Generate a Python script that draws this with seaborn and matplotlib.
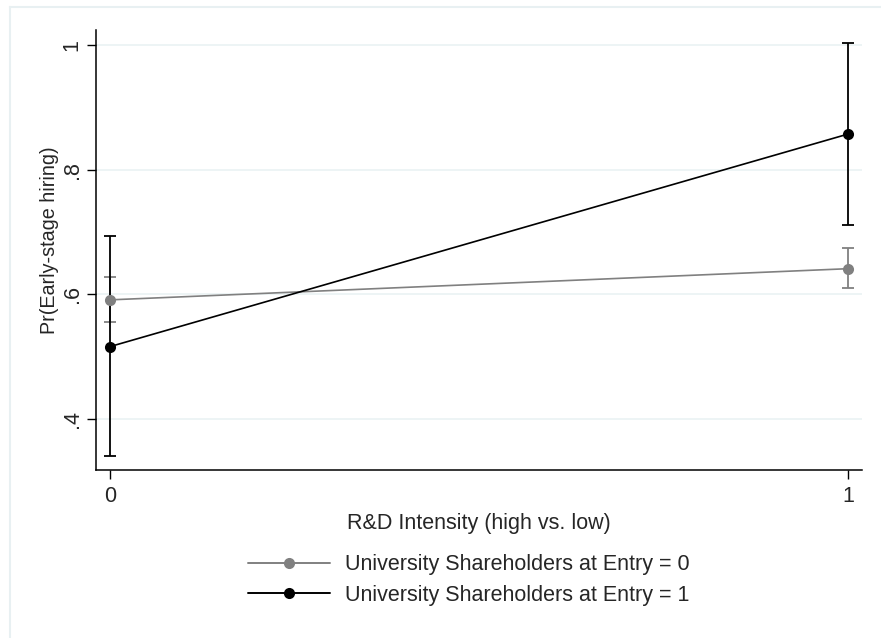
import matplotlib
matplotlib.use("Agg")
import matplotlib.pyplot as plt
import seaborn as sns
import pandas as pd
from matplotlib.lines import Line2D

# Data
rd_levels = [0, 1]
group_labels = ["University Shareholders at Entry = 0", "University Shareholders at Entry = 1"]
group0_mean = [0.591, 0.641]
group0_lo = [0.555, 0.610]
group0_hi = [0.627, 0.674]
group1_mean = [0.516, 0.857]
group1_lo = [0.340, 0.711]
group1_hi = [0.693, 1.003]
yticks = [0.4, 0.6, 0.8, 1.0]
ytick_labels = [".4", ".6", ".8", "1"]
xticks = [0, 1]
xtick_labels = ["0", "1"]

colors = ["#808080", "#000000"]
FS = 15.5

sns.set_theme(style="white")
plt.rcParams["font.family"] = ["Liberation Sans", "DejaVu Sans"]

df = pd.DataFrame({
    "rd": rd_levels * 2,
    "pr": group0_mean + group1_mean,
    "group": [group_labels[0]] * 2 + [group_labels[1]] * 2,
})

fig = plt.figure(figsize=(8.81, 6.38), dpi=100)
ax = fig.add_axes([96 / 881, 1 - 470 / 638, (862 - 96) / 881, (470 - 30) / 638])

# faint outer border (left + top)
fig.add_artist(Line2D([10 / 881, 10 / 881], [0, 1 - 7 / 638], transform=fig.transFigure,
                      color="#e8f0f2", lw=1.5))
fig.add_artist(Line2D([10 / 881, 1], [1 - 7 / 638, 1 - 7 / 638], transform=fig.transFigure,
                      color="#e8f0f2", lw=1.5))

for yt in yticks:
    ax.axhline(yt, color="#eaf2f3", lw=1.2, zorder=0)

sns.lineplot(data=df, x="rd", y="pr", hue="group", palette=colors, marker="o",
             markersize=8, markeredgewidth=0, linewidth=1.2, ax=ax, legend=False, zorder=3)

for means, lo, hi, c in [(group0_mean, group0_lo, group0_hi, colors[0]),
                         (group1_mean, group1_lo, group1_hi, colors[1])]:
    yerr = [[m - l for m, l in zip(means, lo)], [h - m for m, h in zip(means, hi)]]
    ax.errorbar(rd_levels, means, yerr=yerr, fmt="none", ecolor=c, elinewidth=1.3,
                capsize=4.3, capthick=1.3, zorder=2)

ax.set_xlim(-0.019, 1.019)
ax.set_ylim(0.318, 1.024)
ax.set_yticks(yticks)
ax.set_yticklabels(ytick_labels, rotation=90, va="center", fontsize=FS)
ax.set_xticks(xticks)
ax.set_xticklabels(xtick_labels, fontsize=FS)
ax.tick_params(axis="both", direction="out", length=6.5, width=1, color="black",
               left=True, bottom=True)
ax.tick_params(axis="y", pad=3)
ax.tick_params(axis="x", pad=5)
for s in ["top", "right"]:
    ax.spines[s].set_visible(False)
for s in ["left", "bottom"]:
    ax.spines[s].set_color("black")
    ax.spines[s].set_linewidth(1.1)

ax.set_xlabel("R&D Intensity (high vs. low)", fontsize=FS, labelpad=4.5)
ax.set_ylabel("Pr(Early-stage hiring)", fontsize=14.2, labelpad=2)
ax.yaxis.label.set_y(0.523)

handles = [Line2D([], [], color=c, marker="o", markersize=8, markeredgewidth=0, lw=1.4)
           for c in colors]
fig.legend(handles, group_labels, loc="center left", bbox_to_anchor=(248 / 881, 1 - 580 / 638),
           frameon=False, fontsize=FS, handlelength=3.8, handletextpad=0.7, labelspacing=0.45,
           borderpad=0, borderaxespad=0)

fig.savefig("out.png", dpi=100, facecolor="white")
